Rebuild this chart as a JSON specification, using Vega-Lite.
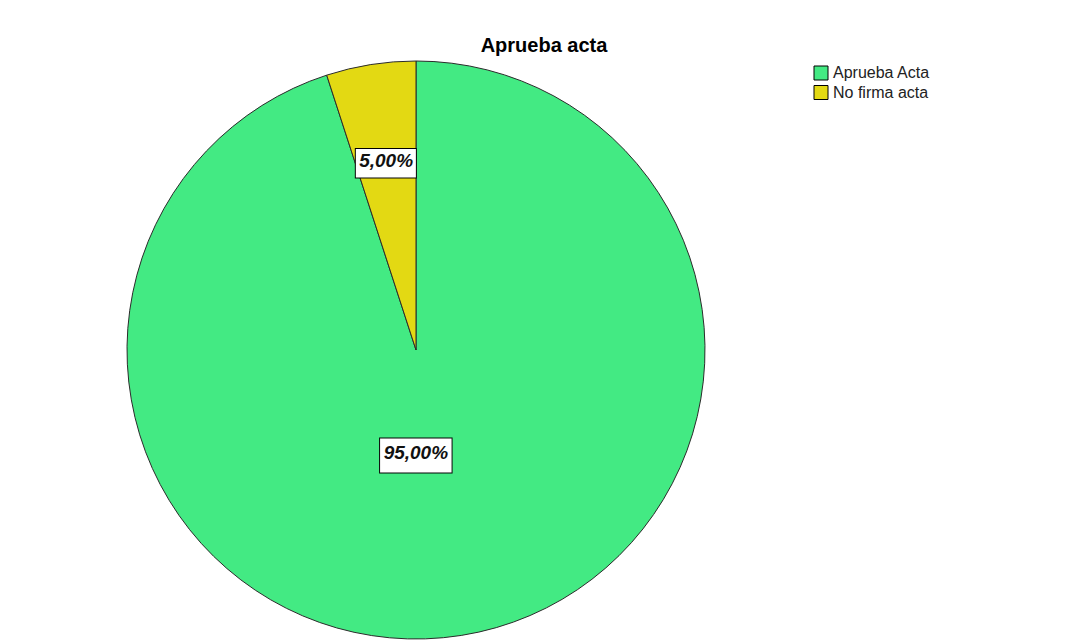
{
  "$schema": "https://vega.github.io/schema/vega-lite/v6.json",
  "width": 832,
  "height": 582,
  "autosize": {"type": "none"},
  "padding": {"top": 59, "left": 0, "right": 235, "bottom": 0},
  "background": "white",
  "title": {
    "text": "Aprueba acta",
    "font": "Liberation Sans",
    "fontSize": 20,
    "fontWeight": "bold",
    "color": "#000000",
    "anchor": "middle",
    "baseline": "alphabetic",
    "dx": 128,
    "offset": -13
  },
  "data": {
    "values": [
      {"categoria": "Aprueba Acta", "porcentaje": 95, "etiqueta": "95,00%", "orden": 1},
      {"categoria": "No firma acta", "porcentaje": 5, "etiqueta": "5,00%", "orden": 2}
    ]
  },
  "encoding": {
    "theta": {"field": "porcentaje", "type": "quantitative", "stack": true},
    "order": {"field": "orden", "type": "quantitative"}
  },
  "layer": [
    {
      "mark": {"type": "arc", "outerRadius": 289, "stroke": "#2b2b2b", "strokeWidth": 1},
      "encoding": {
        "color": {
          "field": "categoria",
          "type": "nominal",
          "scale": {"domain": ["Aprueba Acta", "No firma acta"], "range": ["#43EA83", "#E3D913"]},
          "legend": {
            "title": null,
            "orient": "none",
            "legendX": 813,
            "legendY": 6,
            "symbolType": "square",
            "symbolSize": 196,
            "symbolStrokeColor": "#000000",
            "symbolStrokeWidth": 1,
            "symbolOpacity": 1,
            "labelFont": "Liberation Sans",
            "labelFontSize": 16,
            "labelColor": "#222222",
            "labelOffset": 4,
            "rowPadding": 1.5
          }
        }
      }
    },
    {
      "mark": {"type": "text", "radius": 191, "font": "DejaVu Sans", "fontSize": 80, "dy": -1, "fill": "white", "stroke": "#000000", "strokeWidth": 1, "baseline": "middle", "align": "center"},
      "encoding": {"text": {"condition": {"test": "datum.orden == 2", "value": "▬"}, "value": ""}}
    },
    {
      "mark": {"type": "text", "radius": 104.5, "dx": -16.5, "dy": -2, "font": "DejaVu Sans", "fontSize": 95, "fill": "white", "stroke": "#000000", "strokeWidth": 1, "baseline": "middle", "align": "center"},
      "encoding": {"text": {"condition": {"test": "datum.orden == 1", "value": "▬"}, "value": ""}}
    },
    {
      "mark": {"type": "text", "radius": 191, "font": "Liberation Sans", "fontSize": 19, "fontWeight": "bold", "fontStyle": "italic", "color": "#111111", "baseline": "middle", "align": "center"},
      "encoding": {"text": {"condition": {"test": "datum.orden == 2", "field": "etiqueta"}, "value": ""}}
    },
    {
      "mark": {"type": "text", "radius": 104.5, "dx": -16.5, "font": "Liberation Sans", "fontSize": 19, "fontWeight": "bold", "fontStyle": "italic", "color": "#111111", "baseline": "middle", "align": "center"},
      "encoding": {"text": {"condition": {"test": "datum.orden == 1", "field": "etiqueta"}, "value": ""}}
    }
  ],
  "config": {"view": {"stroke": null}}
}
